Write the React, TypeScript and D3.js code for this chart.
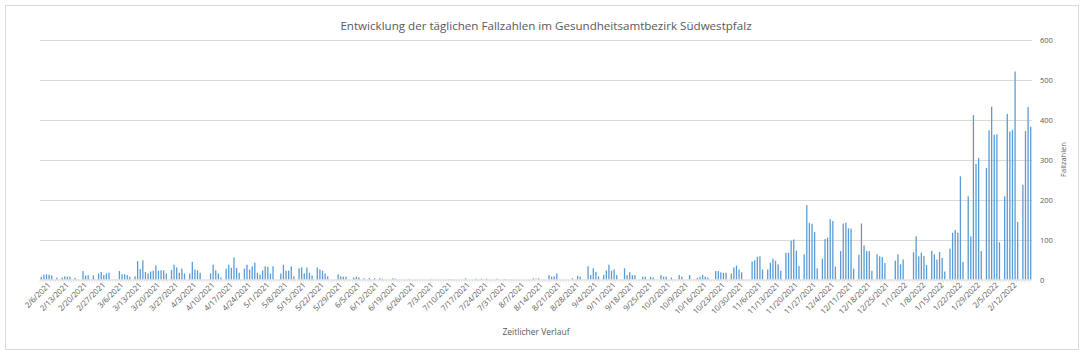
import React from 'react';
import * as d3 from 'd3';

const chartTitle = 'Entwicklung der täglichen Fallzahlen im Gesundheitsamtbezirk Südwestpfalz';
const xAxisTitle = 'Zeitlicher Verlauf';
const yAxisTitle = 'Fallzahlen';
const firstDate = '2021-02-03';

// daily new cases, one value per day starting at firstDate
const dailyCases: number[] = [
  7, 12, 13, 12, 10, 0, 5,
  0, 5, 8, 7, 7, 0, 4,
  0, 0, 21, 10, 11, 0, 10,
  0, 15, 19, 11, 15, 17, 0,
  0, 0, 21, 13, 13, 11, 7,
  0, 8, 46, 26, 48, 19, 15,
  20, 22, 35, 22, 23, 23, 15,
  0, 24, 37, 30, 17, 27, 15,
  0, 15, 44, 25, 23, 17, 0,
  0, 0, 15, 37, 23, 15, 5,
  0, 27, 37, 29, 55, 29, 17,
  0, 27, 37, 25, 33, 42, 17,
  12, 23, 33, 32, 15, 33, 0,
  0, 15, 37, 22, 22, 33, 8,
  0, 28, 30, 15, 30, 17, 10,
  0, 30, 25, 22, 15, 8, 0,
  0, 0, 13, 8, 7, 7, 0,
  0, 5, 7, 5, 0, 3, 0,
  4, 0, 3, 0, 3, 2, 0,
  0, 0, 3, 2, 0, 0, 0,
  0, 1, 0, 0, 0, 0, 0,
  0, 0, 0, 1, 0, 0, 0,
  0, 0, 0, 1, 0, 0, 0,
  0, 0, 3, 0, 0, 0, 2,
  0, 2, 0, 2, 0, 0, 0,
  2, 0, 0, 1, 0, 0, 0,
  0, 0, 0, 0, 0, 0, 0,
  3, 2, 3, 0, 0, 0, 11,
  7, 8, 15, 0, 0, 0, 0,
  0, 3, 0, 9, 7, 0, 0,
  33, 11, 28, 19, 8, 0, 11,
  23, 37, 22, 25, 11, 0, 0,
  28, 11, 18, 11, 11, 0, 0,
  7, 7, 0, 7, 5, 0, 0,
  11, 7, 7, 0, 5, 0, 0,
  11, 7, 0, 0, 11, 0, 0,
  4, 7, 11, 7, 5, 0, 0,
  21, 21, 18, 17, 17, 0, 15,
  30, 35, 25, 18, 0, 0, 0,
  45, 48, 57, 58, 25, 0, 25,
  42, 52, 47, 38, 22, 0, 67,
  67, 97, 100, 72, 34, 0, 63,
  186, 141, 139, 119, 28, 0, 52,
  101, 105, 151, 146, 32, 0, 71,
  140, 142, 128, 127, 27, 0, 62,
  140, 85, 71, 71, 22, 0, 63,
  58, 56, 41, 0, 0, 0, 47,
  63, 38, 50, 0, 0, 0, 68,
  108, 58, 67, 59, 36, 0, 72,
  63, 50, 69, 54, 20, 0, 77,
  117, 124, 117, 258, 44, 0, 208,
  108, 411, 289, 304, 71, 0, 279,
  373, 432, 362, 363, 93, 0, 208,
  414, 370, 374, 520, 144, 0, 237,
  371, 431, 382,
];

const yTicks = [0, 100, 200, 300, 400, 500, 600];

const xTickLabels = [
  '2/6/2021', '2/13/2021', '2/20/2021', '2/27/2021', '3/6/2021', '3/13/2021', '3/20/2021', '3/27/2021',
  '4/3/2021', '4/10/2021', '4/17/2021', '4/24/2021', '5/1/2021', '5/8/2021', '5/15/2021', '5/22/2021',
  '5/29/2021', '6/5/2021', '6/12/2021', '6/19/2021', '6/26/2021', '7/3/2021', '7/10/2021', '7/17/2021',
  '7/24/2021', '7/31/2021', '8/7/2021', '8/14/2021', '8/21/2021', '8/28/2021', '9/4/2021', '9/11/2021',
  '9/18/2021', '9/25/2021', '10/2/2021', '10/9/2021', '10/16/2021', '10/23/2021', '10/30/2021', '11/6/2021',
  '11/13/2021', '11/20/2021', '11/27/2021', '12/4/2021', '12/11/2021', '12/18/2021', '12/25/2021', '1/1/2022',
  '1/8/2022', '1/15/2022', '1/22/2022', '1/29/2022', '2/5/2022', '2/12/2022',
];

const W = 1084;
const H = 356;
const M = { left: 40, right: 1032, top: 39.5, bottom: 279.5 };
const FONT = '"Open Sans", "Noto Sans", sans-serif';
const TEXT = '#595959';
const GRID = '#d9d9d9';
const BAR = '#5b9bd5';

export default function App() {
  const start = d3.timeParse('%Y-%m-%d')(firstDate) as Date;
  const fmt = (d: Date) => `${d.getMonth() + 1}/${d.getDate()}/${d.getFullYear()}`;
  const categories = dailyCases.map((_, i) => fmt(d3.timeDay.offset(start, i)));

  const x = d3
    .scaleBand<string>()
    .domain(categories)
    .range([M.left, M.right])
    .paddingInner(0.5)
    .paddingOuter(0.25);
  const step = x.step();
  const y = d3.scaleLinear().domain([0, 600]).range([M.bottom, M.top]);

  return (
    <svg width={W} height={H} style={{ position: 'absolute', left: 0, top: 0, background: '#fff' }}>
      <rect x={5.5} y={5.5} width={1073} height={344} fill="#fff" stroke={GRID} strokeWidth={1} />
      <text x={546} y={30} textAnchor="middle" fontFamily={FONT} fontSize={11.6} fill={TEXT}>
        {chartTitle}
      </text>
      {yTicks.map((t) => (
        <g key={t}>
          {t > 0 && (
            <line x1={M.left} x2={M.right} y1={Math.round(y(t)) + 0.5} y2={Math.round(y(t)) + 0.5} stroke={GRID} />
          )}
          <text x={1040} y={y(t) + 3} fontFamily={FONT} fontSize={7.5} fill={TEXT}>
            {t}
          </text>
        </g>
      ))}
      {dailyCases.map((v, i) => (
        <rect
          key={i}
          x={x(categories[i])}
          y={y(v)}
          width={x.bandwidth()}
          height={y(0) - y(v)}
          fill={BAR}
        />
      ))}
      <line x1={M.left} x2={M.right} y1={M.bottom + 0.5} y2={M.bottom + 0.5} stroke={GRID} />
      {categories.map((c, i) => {
        const bx = (x(c) as number) - (step - x.bandwidth()) / 2;
        return <line key={'t' + i} x1={bx} x2={bx} y1={M.bottom} y2={M.bottom + 3} stroke={GRID} strokeWidth={0.6} />;
      })}
      {xTickLabels.map((lab) => {
        const cx = (x(lab) as number) + x.bandwidth() / 2;
        return (
          <text
            key={lab}
            transform={`translate(${cx + 2},${M.bottom + 6}) rotate(-45)`}
            textAnchor="end"
            fontFamily={FONT}
            fontSize={7.8}
            fill={TEXT}
          >
            {lab}
          </text>
        );
      })}
      <text x={536} y={335} textAnchor="middle" fontFamily={FONT} fontSize={8.5} fill={TEXT}>
        {xAxisTitle}
      </text>
      <text
        transform={`translate(1066,${(M.top + M.bottom) / 2}) rotate(-90)`}
        textAnchor="middle"
        fontFamily={FONT}
        fontSize={7.5}
        fill={TEXT}
      >
        {yAxisTitle}
      </text>
    </svg>
  );
}
